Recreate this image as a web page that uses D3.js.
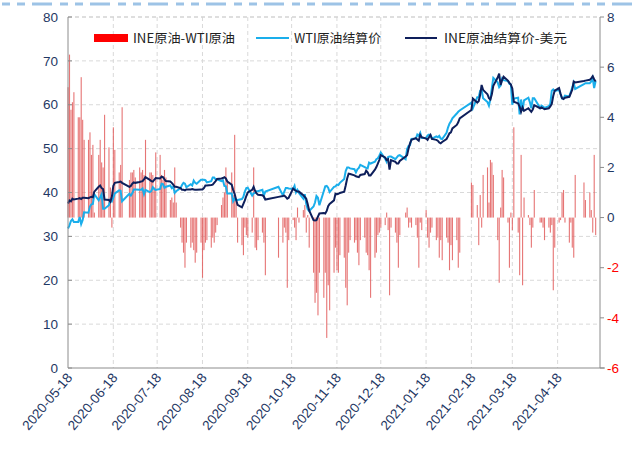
<!DOCTYPE html>
<html>
<head>
<meta charset="utf-8">
<script src="https://cdn.jsdelivr.net/npm/d3@7"></script>
<style>
  body { margin: 0; background: #fff; }
  svg { display: block; }
</style>
</head>
<body>
<svg id="canvas" width="638" height="449"></svg>
<script>
// ---- data (trading days of INE, USD/bbl) ----
var holidays = ['2020-06-25','2020-06-26','2020-10-01','2020-10-02','2020-10-05','2020-10-06','2020-10-07','2020-10-08',
  '2021-01-01','2021-02-11','2021-02-12','2021-02-15','2021-02-16','2021-02-17','2021-04-05','2021-05-03','2021-05-04','2021-05-05'];

var monthTicks = ['2020-05-18','2020-06-18','2020-07-18','2020-08-18','2020-09-18','2020-10-18',
  '2020-11-18','2020-12-18','2021-01-18','2021-02-18','2021-03-18','2021-04-18'];

var leftTicks = [0, 10, 20, 30, 40, 50, 60, 70, 80];
var rightTicks = [-6, -4, -2, 0, 2, 4, 6, 8];

var wti = [].concat(
  [31.8, 32.5, 33.5, 33.9, 33.3, 33.3, 34.4, 32.8, 33.7, 35.5],
  [35.4, 36.8, 37.3, 37.4, 39.6, 38.2, 38.9, 39.6, 36.3, 36.3, 37.1, 38.4, 38.0, 38.8, 39.8, 40.5, 40.4, 38.0, 39.7, 39.3],
  [39.8, 40.7, 40.7, 40.6, 40.6, 40.9, 39.6, 40.6, 40.1, 40.3, 41.2, 40.8, 40.6, 40.8, 42.0, 41.9, 41.1, 41.3, 41.6, 41.0, 41.3, 39.9, 40.3],
  [41.0, 41.7, 42.2, 42.0, 41.2, 41.9, 41.6, 42.7, 42.2, 42.0, 42.9, 42.9, 42.9, 42.8, 42.3, 42.6, 43.4, 43.4, 43.0, 43.0, 42.6],
  [42.8, 41.5, 41.4, 39.8, 39.8, 38.0, 38.6, 38.3, 38.3, 38.5, 39.0, 40.2, 41.0, 41.1, 39.3, 39.8, 39.9, 40.3, 40.3, 40.6, 39.3, 40.2],
  [41.3, 39.4, 40.2, 41.0, 41.0, 40.9, 40.8, 41.5, 40.0, 40.6, 39.9, 38.6, 39.6, 37.4, 36.2, 35.8],
  [36.8, 37.7, 39.2, 38.8, 37.1, 40.3, 41.4, 41.5, 41.1, 40.1, 41.3, 41.4, 41.8, 41.7, 42.2, 43.1, 44.9, 45.7, 45.7, 45.5, 45.3],
  [44.6, 45.3, 45.6, 46.3, 45.8, 45.6, 45.5, 46.8, 46.6, 47.0, 47.6, 47.8, 48.4, 49.1, 47.7, 47.0, 48.1, 48.2, 48.2, 47.6, 48.0, 48.4, 48.5],
  [47.6, 49.9, 50.6, 50.8, 52.2, 52.3, 53.2, 52.9, 53.6, 52.4, 52.4, 53.0, 53.2, 53.1, 52.3, 52.8, 52.6, 52.9, 52.3, 52.2],
  [53.6, 54.8, 55.7, 56.2, 56.9, 58.0, 58.4, 58.7, 60.5, 59.2, 61.7, 61.7, 63.2, 63.5, 61.5],
  [60.6, 59.8, 61.3, 63.8, 66.1, 65.1, 64.0, 64.4, 66.0, 65.6, 65.4, 64.8, 64.6, 60.0, 61.4, 61.6, 57.8, 61.2, 58.6, 61.0, 61.6, 60.6, 59.2],
  [61.5, 61.5, 59.3, 59.8, 59.6, 59.3, 59.7, 60.2, 63.2, 63.5, 63.1, 63.4, 62.4, 61.4, 61.4, 62.1, 61.9, 62.9, 63.9, 65.0, 63.6],
  [64.7, 64.9, 64.9, 65.3, 66.1, 63.8, 65.4]
);

var ine = [].concat(
  [37.5, 38.2, 38.0, 38.6, 38.4, 38.6, 38.7, 38.5, 38.8, 38.8],
  [38.7, 38.9, 39.0, 38.9, 40.2, 41.3, 41.6, 41.0, 40.8, 38.4, 38.3, 37.9, 39.0, 41.5, 42.2, 42.4, 42.5, 42.2, 41.3, 41.5],
  [42.0, 42.3, 42.2, 42.4, 42.5, 42.6, 43.0, 43.5, 42.9, 42.6, 42.5, 42.9, 43.3, 43.2, 43.6, 43.5, 43.0, 42.6, 42.5, 42.2, 41.8, 41.3, 41.3],
  [41.0, 40.6, 40.6, 40.5, 40.7, 40.7, 40.8, 40.7, 40.6, 40.6, 40.7, 40.7, 41.0, 41.6, 41.6, 41.7, 41.8, 42.2, 42.6, 43.1, 43.2],
  [43.3, 43.5, 43.2, 42.5, 41.8, 40.6, 39.7, 38.4, 37.2, 36.6, 37.4, 38.2, 39.2, 40.0, 40.6, 41.3, 40.4, 39.8, 39.5, 39.4, 39.1, 38.4],
  [39.0, 39.2, 39.3, 39.0, 38.6, 38.8, 40.9, 40.6, 40.4, 40.2, 40.2, 39.4, 39.0, 38.6, 37.4, 35.9],
  [33.7, 33.6, 33.7, 34.5, 35.2, 35.3, 35.2, 35.8, 36.9, 37.4, 38.2, 39.7, 39.6, 39.7, 39.9, 40.2, 41.6, 43.2, 44.3, 44.2, 43.9],
  [43.7, 43.6, 43.5, 44.0, 44.2, 45.0, 44.6, 43.9, 43.9, 45.2, 45.8, 46.6, 47.4, 48.5, 48.0, 47.4, 47.6, 45.2, 47.4, 47.0, 46.6, 46.6, 47.2],
  [48.2, 48.5, 50.0, 51.2, 52.0, 52.4, 52.1, 51.8, 53.1, 52.6, 52.3, 52.0, 52.6, 53.1, 52.2, 52.0, 51.8, 51.4, 51.2, 51.5],
  [52.2, 52.8, 53.5, 53.7, 54.6, 55.4, 56.0, 56.9, 58.8, 61.4, 60.5, 60.8, 62.2, 64.5, 63.4],
  [62.4, 61.5, 61.2, 62.4, 64.3, 66.2, 67.1, 64.5, 65.6, 66.4, 65.5, 65.0, 64.6, 63.7, 60.7, 60.3, 59.6, 58.4, 59.4, 58.6, 59.2, 58.8, 58.4],
  [58.9, 59.9, 59.2, 59.4, 59.2, 59.0, 59.2, 59.6, 60.2, 62.0, 63.2, 63.8, 62.5, 61.5, 61.3, 61.6, 61.8, 62.6, 63.4, 65.3, 65.1],
  [65.4, 65.5, 65.7, 66.0, 66.5, 65.8, 65.3]
);

var spread = [].concat(
  [5.2, 6.5, 4.3, 4.6, 5.0, 4.0, 4.0, 5.6, 3.9, 3.1],
  [3.1, 3.4, 2.5, 2.9, 0.2, 2.5, 3.1, 2.2, 2.0, 4.1, 2.8, 1.2, -0.4, 3.6, 2.7, 1.8, 2.1, 4.4, 1.5, 1.8],
  [1.8, 1.9, 1.6, 2.0, 1.8, 1.9, 1.7, 3.1, 1.8, 1.8, 1.7, 1.2, 2.6, 2.5, 1.7, 1.5, 1.9, 1.6, 0.7, 0.8, 0.6, 2.0, 0.6],
  [-0.4, -1.0, -1.4, -2.0, -1.0, -1.2, -1.0, -1.3, -1.8, -1.4, -1.0, -2.4, -1.3, -1.0, -0.9, -1.2, -0.8, -1.0, -0.6, -0.3, 0.5],
  [0.8, 1.0, 2.0, 1.4, 1.8, 0.9, 3.3, 0.7, -1.0, -1.1, -1.5, -0.4, -0.7, -0.8, -0.6, 2.0, -1.2, -1.3, -0.9, -0.6, -1.0, -2.3],
  [-1.6, -1.0, -0.4, -0.6, -2.8, -0.9, -0.1, -0.4, -0.9, 0.4, -0.2, 0.3, 0.5, -0.6, 0.1, -1.2],
  [-2.2, -3.4, -3.0, -3.9, -2.2, -3.2, -2.2, -4.8, -2.7, -3.7, -2.2, -1.2, -2.1, -2.2, -1.5, -1.6, -2.8, -3.5, -1.4, -0.9, -1.0],
  [-0.9, -1.4, -1.9, -0.9, -0.8, -1.4, -1.5, -2.1, -3.2, -1.6, -1.4, -0.7, -0.6, -0.4, -0.3, 0.2, -0.5, -3.1, -0.4, -0.6, -1.0, -2.0, -0.7],
  [0.2, 0.4, -0.4, -0.2, -0.4, -0.3, -0.8, -2.0, -0.2, -0.5, 0.3, -0.8, -1.2, -0.6, -0.4, -0.9, -0.8, -1.6, -0.9, -1.7],
  [-0.8, -1.0, -2.1, -1.1, -1.7, -0.9, -2.0, -1.4, 1.4, 1.3, 0.5, -1.1, 0.9, -0.4, 1.7],
  [2.0, 0.6, 2.3, 2.2, 1.7, -0.9, -2.6, 0.4, 1.9, 1.6, -0.2, -2.0, 0.2, -0.5, 3.6, -0.6, -2.3, 2.5, -2.7, 0.8, 0.1, -0.3, -1.2],
  [-0.4, 1.1, -0.2, -0.2, -0.4, -0.9, -0.4, -0.6, -0.3, -2.9, -1.2, -0.2, -0.1, 1.0, 1.1, -0.2, -1.0, -0.2, -1.2, -1.6, 1.7],
  [1.4, 0.7, 1.0, 0.3, -0.6, 2.5, -0.7]
);

var legendNames = ['INE原油-WTI原油', 'WTI原油结算价', 'INE原油结算价-美元'];

// ---- trading calendar ----
var fmt = d3.timeFormat('%Y-%m-%d');
var parse = d3.timeParse('%Y-%m-%d');
var dates = d3.timeDay.range(new Date(2020, 4, 18), new Date(2021, 4, 15))
  .filter(d => d.getDay() != 0 && d.getDay() != 6 && holidays.indexOf(fmt(d)) < 0);

// ************************************************************************************************** //
// Setup

var plot = { left: 68, right: 600, top: 17, bottom: 368 };
var navy = '#1f3864', red = '#ff0000';

var svg = d3.select('#canvas');
svg.append('rect').attr('width', 638).attr('height', 449).attr('fill', '#fff');

var xScale = d3.scaleTime().domain([new Date(2020, 4, 18), new Date(2021, 4, 17)]).range([plot.left, plot.right]);
var yLeft = d3.scaleLinear().domain([0, 80]).range([plot.bottom, plot.top]);
var yRight = d3.scaleLinear().domain([-6, 8]).range([plot.bottom, plot.top]);

// top decoration
svg.append('line').attr('x1', 2).attr('x2', 638).attr('y1', 4).attr('y2', 4)
  .style('stroke', '#9dc3e6').style('stroke-width', 3).style('stroke-dasharray', '8,7,8,7,20,8');

// ************************************************************************************************** //
// Grid

var grid = svg.append('g');
grid.selectAll('.hg').data(leftTicks.slice(1)).enter().append('line')
  .attr('x1', plot.left).attr('x2', plot.right)
  .attr('y1', d => yLeft(d)).attr('y2', d => yLeft(d))
  .style('stroke', '#d9d9d9').style('stroke-dasharray', '4,3');
grid.selectAll('.vg').data(monthTicks.slice(1)).enter().append('line')
  .attr('x1', d => xScale(parse(d))).attr('x2', d => xScale(parse(d)))
  .attr('y1', plot.top).attr('y2', plot.bottom)
  .style('stroke', '#d9d9d9').style('stroke-dasharray', '4,3');

// ************************************************************************************************** //
// Bars (right axis)

svg.append('g').selectAll('rect').data(spread).enter().append('rect')
  .attr('x', (d, i) => xScale(dates[i]) - 0.5)
  .attr('width', 1.1)
  .attr('y', d => Math.min(yRight(d), yRight(0)))
  .attr('height', d => Math.abs(yRight(d) - yRight(0)))
  .style('fill', '#e25d5d').style('fill-opacity', 0.85);

// ************************************************************************************************** //
// Lines (left axis)

var lineGen = d3.line().x((d, i) => xScale(dates[i])).y(d => yLeft(d));
svg.append('path').attr('d', lineGen(wti)).style('fill', 'none').style('stroke', '#1aaeeb').style('stroke-width', 2);
svg.append('path').attr('d', lineGen(ine)).style('fill', 'none').style('stroke', '#0e1f5b').style('stroke-width', 2);

// ************************************************************************************************** //
// Axes

var axisColor = '#8c8c8c';
svg.append('line').attr('x1', plot.left).attr('x2', plot.right).attr('y1', plot.top).attr('y2', plot.top)
  .style('stroke', '#d0d0d0').style('stroke-dasharray', '4,3');
svg.append('line').attr('x1', plot.left).attr('x2', plot.left).attr('y1', plot.top).attr('y2', plot.bottom).style('stroke', axisColor);
svg.append('line').attr('x1', plot.right).attr('x2', plot.right).attr('y1', plot.top).attr('y2', plot.bottom).style('stroke', axisColor);
svg.append('line').attr('x1', plot.left).attr('x2', plot.right + 5).attr('y1', plot.bottom).attr('y2', plot.bottom).style('stroke', axisColor);

var la = svg.append('g');
la.selectAll('line').data(leftTicks).enter().append('line')
  .attr('x1', plot.left).attr('x2', plot.left + 4).attr('y1', d => yLeft(d)).attr('y2', d => yLeft(d)).style('stroke', axisColor);
la.selectAll('text').data(leftTicks).enter().append('text')
  .attr('x', 58).attr('y', d => yLeft(d)).attr('dy', '0.35em').attr('text-anchor', 'end')
  .style('font', '13.5px "Liberation Sans", Arial, sans-serif').style('fill', navy)
  .text(d => d);

var ra = svg.append('g');
ra.selectAll('line').data(rightTicks).enter().append('line')
  .attr('x1', plot.right).attr('x2', plot.right + 4).attr('y1', d => yRight(d)).attr('y2', d => yRight(d)).style('stroke', axisColor);
ra.selectAll('text').data(rightTicks).enter().append('text')
  .attr('x', 607).attr('y', d => yRight(d)).attr('dy', '0.35em')
  .style('font', '13.5px "Liberation Sans", Arial, sans-serif').style('fill', d => d < 0 ? red : navy)
  .text(d => d);

var xa = svg.append('g');
xa.selectAll('text').data(monthTicks).enter().append('text')
  .attr('transform', d => 'translate(' + (xScale(parse(d)) + 5) + ',' + 378 + ') rotate(-50)')
  .attr('text-anchor', 'end')
  .style('font', '13.5px "Liberation Sans", Arial, sans-serif').style('fill', navy)
  .text(d => d);

// ************************************************************************************************** //
// Legend

var lg = svg.append('g').style('font', '12.5px "Noto Sans CJK SC", sans-serif').style('fill', '#222');
lg.append('rect').attr('x', 94).attr('y', 34).attr('width', 34).attr('height', 8).style('fill', red);
lg.append('text').attr('x', 133).attr('y', 43).attr('textLength', 102).attr('lengthAdjust', 'spacingAndGlyphs').text(legendNames[0]);
lg.append('line').attr('x1', 256).attr('x2', 289).attr('y1', 38).attr('y2', 38).style('stroke', '#1aaeeb').style('stroke-width', 2);
lg.append('text').attr('x', 294).attr('y', 43).attr('textLength', 87).attr('lengthAdjust', 'spacingAndGlyphs').text(legendNames[1]);
lg.append('line').attr('x1', 405).attr('x2', 437).attr('y1', 38).attr('y2', 38).style('stroke', '#0e1f5b').style('stroke-width', 2);
lg.append('text').attr('x', 444).attr('y', 43).attr('textLength', 123).attr('lengthAdjust', 'spacingAndGlyphs').text(legendNames[2]);
</script>
</body>
</html>
